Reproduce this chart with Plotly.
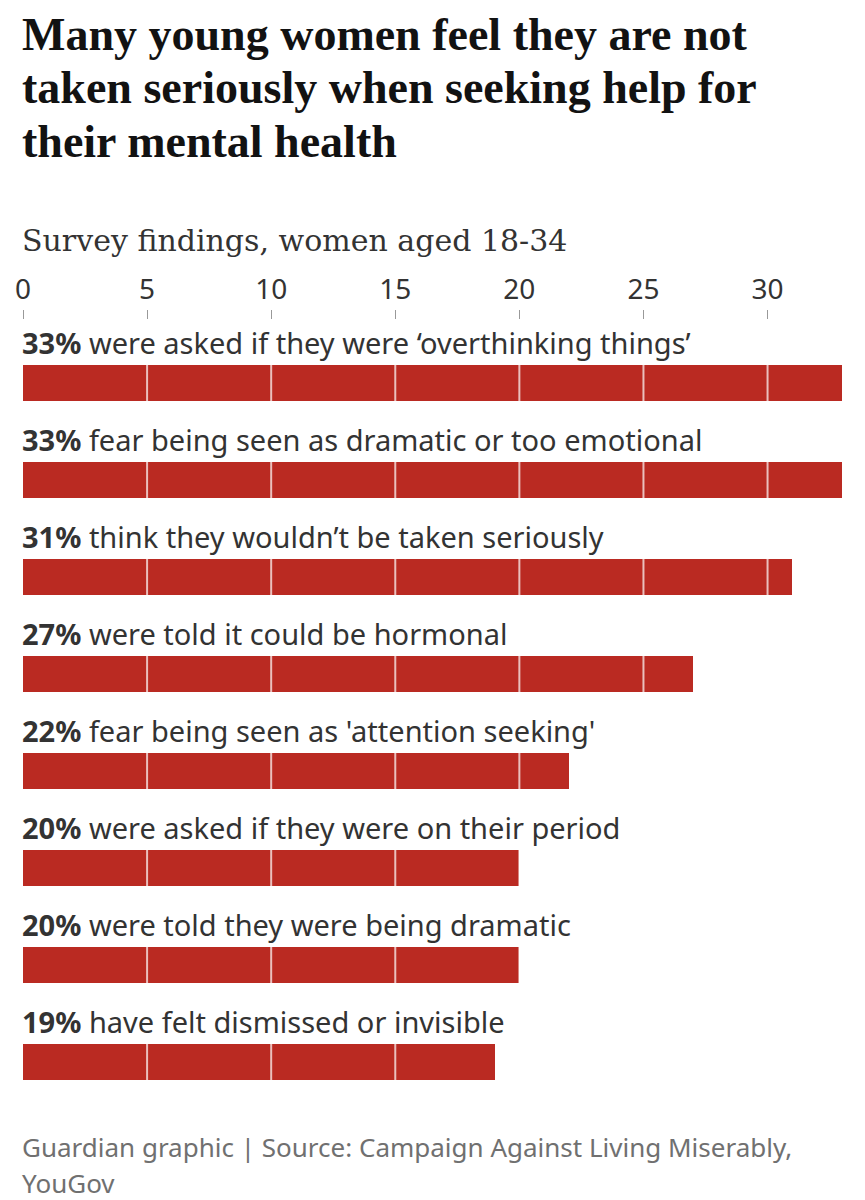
import plotly.graph_objects as go

# Data
statements = [
    "were asked if they were ‘overthinking things’",
    "fear being seen as dramatic or too emotional",
    "think they wouldn’t be taken seriously",
    "were told it could be hormonal",
    "fear being seen as 'attention seeking'",
    "were asked if they were on their period",
    "were told they were being dramatic",
    "have felt dismissed or invisible",
]
values = [33, 33, 31, 27, 22, 20, 20, 19]
tick_values = [0, 5, 10, 15, 20, 25, 30]
tick_labels = ["0", "5", "10", "15", "20", "25", "30"]

title_lines = [
    "Many young women feel they are not",
    "taken seriously when seeking help for",
    "their mental health",
]
subtitle = "Survey findings, women aged 18-34"
footer_lines = [
    "Guardian graphic | Source: Campaign Against Living Miserably,",
    "YouGov",
]

BAR = "#ba2a22"
TEXT = "#333333"
SANS = "Noto Sans, Open Sans, sans-serif"
SERIF_H = "Liberation Serif, DejaVu Serif, serif"
SERIF_T = "DejaVu Serif, Liberation Serif, serif"

idx = list(range(len(values)))

fig = go.Figure()
fig.add_trace(go.Bar(
    x=values, y=idx, orientation="h",
    marker=dict(color=BAR, line=dict(width=0)),
    width=0.371, hoverinfo="skip",
))

W, H = 865, 1200
ml, mr, mt, mb = 23, 23, 320, 100
plot_h = H - mt - mb

def py(pix):
    return (H - mb - pix) / plot_h

annotations = []
for i, (v, s) in enumerate(zip(values, statements)):
    annotations.append(dict(
        x=0, y=i, xref="x", yref="y", xanchor="left", yanchor="middle",
        yshift=40, xshift=-3, showarrow=False,
        text=f"<b>{v}%</b> {s}",
        font=dict(family=SANS, size=29, color=TEXT),
    ))

for t, yy in zip(title_lines, [34, 88, 142]):
    annotations.append(dict(
        x=0, y=py(yy), xref="paper", yref="paper", xanchor="left", yanchor="middle",
        xshift=-3, showarrow=False, text=f"<b>{t}</b>",
        font=dict(family=SERIF_H, size=46, color="#121212"),
    ))

annotations.append(dict(
    x=0, y=py(241), xref="paper", yref="paper", xanchor="left", yanchor="middle",
    xshift=-3, showarrow=False, text=subtitle,
    font=dict(family=SERIF_T, size=30, color=TEXT),
))

for t, yy in zip(footer_lines, [1147, 1183]):
    annotations.append(dict(
        x=0, y=py(yy), xref="paper", yref="paper", xanchor="left", yanchor="middle",
        xshift=-3, showarrow=False, text=t,
        font=dict(family=SANS, size=26, color="#707070"),
    ))

shapes = []
for v in tick_values:
    if v == 0:
        continue
    shapes.append(dict(
        type="line", xref="x", yref="paper", x0=v, x1=v, y0=0, y1=1,
        line=dict(color="rgba(255,255,255,0.7)", width=2), layer="above",
    ))

fig.update_layout(
    width=W, height=H,
    margin=dict(l=ml, r=mr, t=mt, b=mb),
    paper_bgcolor="white", plot_bgcolor="white",
    showlegend=False, bargap=0,
    annotations=annotations, shapes=shapes,
    xaxis=dict(
        side="top", range=[0, 33], tickvals=tick_values, ticktext=tick_labels,
        ticks="outside", ticklen=9, tickwidth=1, tickcolor="#999999",
        showgrid=False, zeroline=False, showline=False,
        tickfont=dict(family=SANS, size=28, color=TEXT),
        fixedrange=True,
    ),
    yaxis=dict(
        range=[7.392, -0.649], showticklabels=False, showgrid=False,
        zeroline=False, showline=False, ticks="", fixedrange=True,
    ),
)

fig.write_html(
    "out.html",
    config={"displayModeBar": False},
    post_script="document.body.style.margin='0';document.body.style.overflow='hidden';",
)
